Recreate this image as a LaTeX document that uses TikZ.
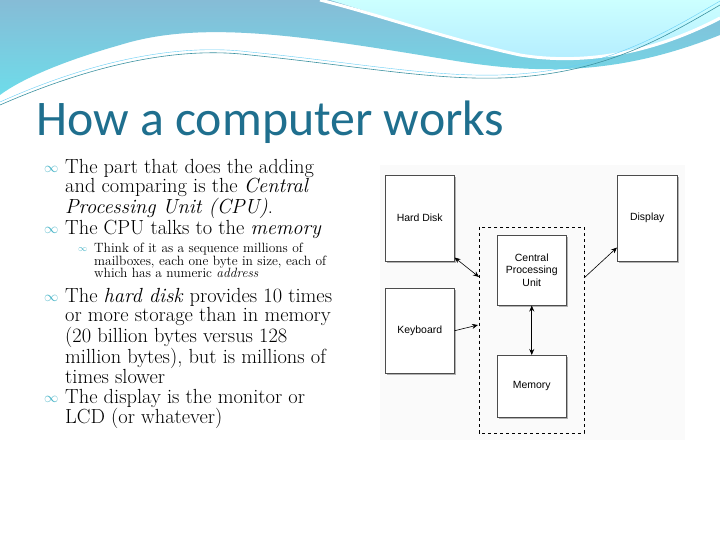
\documentclass[tikz,border=0pt]{standalone}
\usepackage{fontspec}
\newfontfamily\titlefont{Carlito}
\newfontfamily\diafont{Liberation Sans}
\usetikzlibrary{arrows.meta,calc}
\definecolor{titleteal}{HTML}{1F6F8E}
\definecolor{bul}{HTML}{4BB6C9}
\definecolor{bantop}{HTML}{86BCD6}
\definecolor{banbot}{HTML}{6EDCEA}
\begin{document}
\begin{tikzpicture}[x=1bp,y=-1bp,
  box/.style={draw=black!70,line width=0.5pt,fill=white,minimum width=69bp,minimum height=86bp,anchor=north west,font=\diafont\fontsize{10.5}{13}\selectfont,align=center,inner sep=0pt,
    preaction={fill=black!30,transform canvas={xshift=1.5bp,yshift=-1.5bp}}},
  arr/.style={-{Stealth[length=6bp,width=5bp]},line width=0.6pt},
  darr/.style={{Stealth[length=6bp,width=5bp]}-{Stealth[length=6bp,width=5bp]},line width=0.6pt},
  txt/.style={anchor=north west,inner sep=0pt,align=left,font=\fontsize{20.5}{19.3}\selectfont},
  stxt/.style={anchor=north west,inner sep=0pt,align=left,font=\fontsize{13.5}{12.5}\selectfont}]
\useasboundingbox (0,0) rectangle (720,540);
\fill[white] (0,0) rectangle (720,540);
% banner
\shade[top color=bantop,bottom color=banbot] (0,0) -- (720,0) -- (720,35)
  .. controls (620,75) and (540,75) .. (450,60)
  .. controls (300,35) and (200,20) .. (120,45)
  .. controls (60,62) and (20,80) .. (0,95) -- cycle;
\shade[top color=cyan!20,bottom color=blue!25!cyan!30] (330,0) -- (720,0) -- (720,20)
  .. controls (650,55) and (580,65) .. (520,55)
  .. controls (450,40) and (380,15) .. (330,0) -- cycle;
\draw[white,line width=3pt] (320,0) .. controls (380,15) and (450,40) .. (520,55) .. controls (580,65) and (650,55) .. (720,18);
\draw[bul!80!black,line width=0.6pt] (0,105) .. controls (80,70) and (170,45) .. (250,55)
  .. controls (350,65) and (430,80) .. (500,78) .. controls (600,75) and (660,40) .. (720,5);
\draw[cyan!60,line width=0.4pt] (0,102) .. controls (80,66) and (170,42) .. (250,52)
  .. controls (350,62) and (430,77) .. (500,75) .. controls (600,72) and (660,36) .. (720,1);
% title
\node[anchor=west,inner sep=0pt,text=titleteal,font=\titlefont\fontsize{50}{54}\selectfont] (title) at (36,122) {How a computer works};
% bullets
\foreach \y/\n in {169/b1,230/b2,298/b3,399/b4}{\node[text=bul,font=\fontsize{14}{14}\selectfont,anchor=west,inner sep=0pt] (\n) at (44,\y) {$\infty$};}
\node[text=bul,font=\fontsize{9}{9}\selectfont,anchor=west,inner sep=0pt] (b2a) at (78,250) {$\infty$};
\node[txt] (t1) at (65,159) {The part that does the adding\\and comparing is the \textit{Central}\\\textit{Processing Unit (CPU)}.};
\node[txt] (t2) at (65,220) {The CPU talks to the \textit{memory}};
\node[stxt] (t2a) at (94,243) {Think of it as a sequence millions of\\mailboxes, each one byte in size, each of\\which has a numeric \textit{address}};
\node[txt] (t3) at (65,288) {The \textit{hard disk} provides \oldstylenums{10} times\\or more storage than in memory\\(\oldstylenums{20} billion bytes versus \oldstylenums{128}\\million bytes), but is millions of\\times slower};
\node[txt] (t4) at (65,389) {The display is the monitor or\\LCD (or whatever)};
% diagram
\fill[black!2] (380,165) rectangle (685,440);
\node[box] (hd) at (385,175) {Hard Disk};
\node[box] (disp) at (617,175) [minimum width=60bp] {Display};
\node[box] (kb) at (385,288) [minimum height=85bp] {Keyboard};
\draw[dashed,line width=0.6pt] (479,227) rectangle (584,433);
\coordinate (dl) at (479,277);
\coordinate (dk) at (478,325);
\coordinate (dr) at (584,278);
\node[box] (cpu) at (497,235) [minimum height=70bp] {Central\\Processing\\Unit};
\node[box] (mem) at (497,355) [minimum height=62bp] {Memory};
\draw[darr] ($(hd.south east)+(0,-4)$) -- (dl);
\draw[arr] (kb.east) -- (dk);
\draw[arr] (dr) -- ($(disp.south west)+(0,-14)$);
\draw[darr] (cpu.south) -- (mem.north);
\end{tikzpicture}
\end{document}
